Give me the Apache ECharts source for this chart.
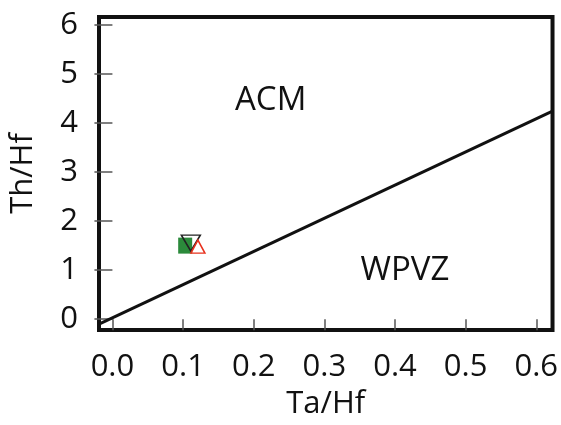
<!DOCTYPE html>
<html>
<head>
<meta charset="utf-8">
<script src="https://cdn.jsdelivr.net/npm/echarts@6/dist/echarts.min.js"></script>
<style>html,body{margin:0;padding:0;background:#fff}#c{width:561px;height:425px}</style>
</head>
<body>
<div id="c"></div>
<script>
// Axis ranges and tick labels
var xRange = [-0.019, 0.623];
var yRange = [-0.22, 6.16];
var xTicks = [0.0, 0.1, 0.2, 0.3, 0.4, 0.5, 0.6];
var yTicks = [0, 1, 2, 3, 4, 5, 6];

// Discriminant boundary line (Ta/Hf, Th/Hf)
var boundaryX = [-0.019, 0.623];
var boundaryY = [-0.10, 4.24];

// Samples
var squareSample = [0.103, 1.50];
var invTriangleSample = [0.111, 1.55];
var redTriangleSample = [0.121, 1.48];

// Field labels
var fieldNames = ['ACM', 'WPVZ'];
var fieldX = [0.224, 0.414];
var fieldY = [4.46, 1.00];

var FONT = '"Open Sans", "Noto Sans", sans-serif';
var TXT = '#111';
var chart = echarts.init(document.getElementById('c'));

var lineData = boundaryX.map(function (x, i) { return [x, boundaryY[i]]; });
var labelData = fieldNames.map(function (n, i) { return { name: n, value: [fieldX[i], fieldY[i]] }; });

chart.setOption({
  animation: false,
  backgroundColor: '#fff',
  grid: { left: 97, top: 17, right: 8, bottom: 92, show: true, borderColor: '#111', borderWidth: 4, backgroundColor: 'transparent' },
  xAxis: {
    type: 'value', min: xRange[0], max: xRange[1],
    name: 'Ta/Hf', nameLocation: 'middle', nameGap: 59,
    nameTextStyle: { fontFamily: FONT, fontSize: 31, color: TXT },
    axisLine: { show: false },
    splitLine: { show: false },
    axisTick: { show: true, length: 11, customValues: xTicks, lineStyle: { color: '#555', width: 1.5 } },
    axisLabel: { customValues: xTicks, margin: 22, fontFamily: FONT, fontSize: 31, color: TXT,
      formatter: function (v) { return (+v).toFixed(1); } }
  },
  yAxis: {
    type: 'value', min: yRange[0], max: yRange[1],
    name: 'Th/Hf', nameLocation: 'middle', nameGap: 60, nameRotate: 90,
    nameTextStyle: { fontFamily: FONT, fontSize: 31, color: TXT },
    axisLine: { show: false },
    splitLine: { show: false },
    axisTick: { show: true, length: 18, customValues: yTicks, lineStyle: { color: '#555', width: 1.5 } },
    axisLabel: { customValues: yTicks, margin: 21, fontFamily: FONT, fontSize: 31, color: TXT,
      formatter: function (v) { return String(Math.round(v)); } }
  },
  series: [
    { type: 'line', data: lineData, symbol: 'none', lineStyle: { color: '#111', width: 3 }, z: 2 },
    { type: 'scatter', data: labelData, symbolSize: 0, itemStyle: { opacity: 1 },
      label: { show: true, position: 'inside', formatter: '{b}', fontFamily: FONT, fontSize: 33, color: TXT }, z: 3 },
    { type: 'scatter', data: [squareSample], symbol: 'rect', symbolSize: [14, 16],
      itemStyle: { color: '#2b8a3b', opacity: 1 }, z: 4 },
    { type: 'scatter', data: [invTriangleSample], symbol: 'triangle', symbolRotate: 180, symbolSize: [19, 16],
      itemStyle: { color: 'rgba(0,0,0,0)', borderColor: '#222', borderWidth: 1.5, opacity: 1 }, z: 5 },
    { type: 'scatter', data: [redTriangleSample], symbol: 'triangle', symbolSize: [14, 13],
      itemStyle: { color: 'rgba(0,0,0,0)', borderColor: '#e8301c', borderWidth: 1.5, opacity: 1 }, z: 5 }
  ]
});
</script>
</body>
</html>
